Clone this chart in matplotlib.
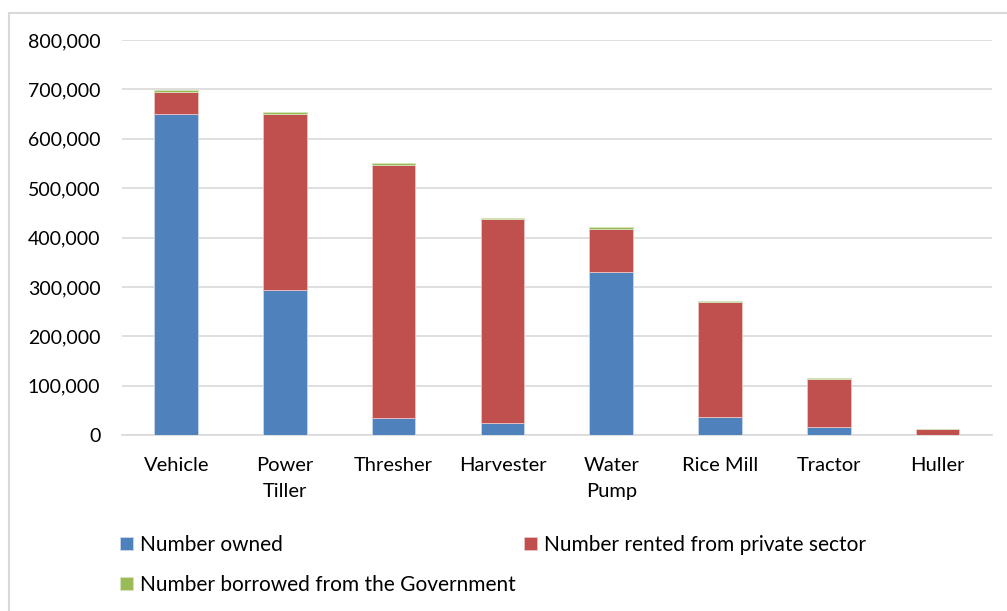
import matplotlib.pyplot as plt
from matplotlib.lines import Line2D
from matplotlib.ticker import FuncFormatter

plt.rcParams['font.family'] = ['Lato', 'DejaVu Sans']

# Données
machines = ["Vehicle", "Power\nTiller", "Thresher", "Harvester", "Water\nPump",
            "Rice Mill", "Tractor", "Huller"]
owned = [650000, 294000, 35000, 24000, 330000, 36500, 15600, 0]
rented = [45000, 357000, 512000, 414000, 88000, 233500, 98400, 11500]
borrowed = [4000, 3000, 3000, 2500, 2500, 1000, 500, 200]

c_owned = "#4F81BD"
c_rented = "#C0504D"
c_borrowed = "#9BBB59"

fig = plt.figure(figsize=(10.07, 6.11), dpi=100)
ax = fig.add_axes([0.121, 0.288, 0.864, 0.6465])

x = list(range(len(machines)))
base2 = [o + r for o, r in zip(owned, rented)]
b1 = ax.bar(x, owned, width=0.4, color=c_owned, edgecolor="#C9D7EA", linewidth=0.6,
            label="Number owned", zorder=3)
b2 = ax.bar(x, rented, width=0.4, bottom=owned, color=c_rented, edgecolor="#EBC3C2",
            linewidth=0.6, label="Number rented from private sector", zorder=3)
b3 = ax.bar(x, borrowed, width=0.4, bottom=base2, color=c_borrowed, edgecolor="#D5E3BC",
            linewidth=0.6, label="Number borrowed from the Government", zorder=3)

ax.set_xlim(-0.5, len(machines) - 0.5)
ax.set_ylim(0, 800000)
ax.set_yticks(range(0, 800001, 100000))
ax.yaxis.set_major_formatter(FuncFormatter(lambda v, p: f"{int(v):,}"))
ax.grid(axis='y', color="#D9D9D9", linewidth=1.2, zorder=0)
ax.set_xticks(x)
ax.set_xticklabels(machines, fontsize=14.5, linespacing=1.62, va='top')
ax.tick_params(axis='y', labelsize=14, length=0, pad=15.5)
ax.tick_params(axis='x', length=0, pad=16)
for s in ["top", "right", "left"]:
    ax.spines[s].set_visible(False)
ax.spines["bottom"].set_color("#D9D9D9")
ax.spines["bottom"].set_linewidth(1.2)

# Légende (ordre pour remplir comme Excel)
fig.legend([b1, b3, b2],
           ["Number owned", "Number borrowed from the Government",
            "Number rented from private sector"],
           ncol=2, loc='upper left', bbox_to_anchor=(0.109, 0.142),
           frameon=False, fontsize=15, handlelength=0.6, handleheight=0.6,
           handletextpad=0.35, labelspacing=0.98, columnspacing=0.4, borderpad=0)

# Cadre du graphique (bords gauche et haut)
fig.add_artist(Line2D([0.009, 0.009], [0, 0.979], transform=fig.transFigure,
                      color="#D9D9D9", linewidth=1.5))
fig.add_artist(Line2D([0.009, 1.0], [0.979, 0.979], transform=fig.transFigure,
                      color="#D9D9D9", linewidth=1.5))

plt.savefig("out.png", dpi=100)
